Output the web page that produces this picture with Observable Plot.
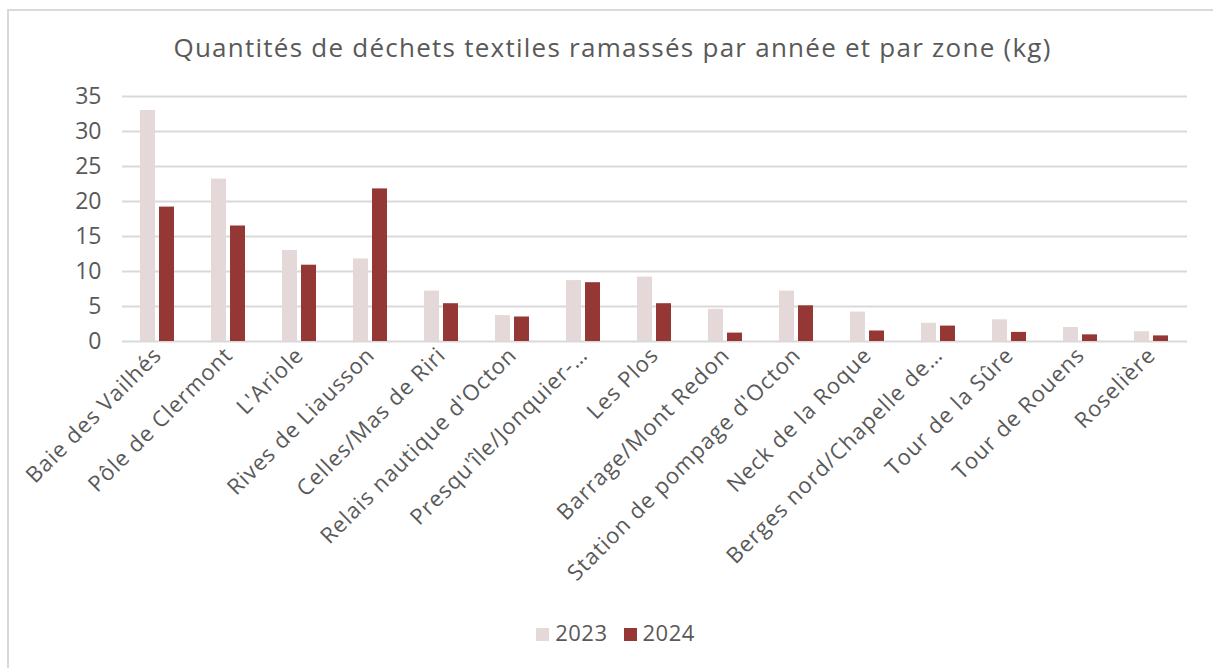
<!DOCTYPE html>
<html><head><meta charset="utf-8">
<script src="https://cdn.jsdelivr.net/npm/d3@7"></script>
<script src="https://cdn.jsdelivr.net/npm/@observablehq/plot@0.6"></script>
<style>
body{margin:0;background:#fff;font-family:"Open Sans",sans-serif;overflow:hidden;}
#frame{position:absolute;left:7px;top:9px;width:1230px;height:690px;border:2px solid #d9d9d9;box-sizing:border-box;}
#title{position:absolute;left:6px;top:29px;width:1213px;text-align:center;font-size:26px;letter-spacing:1.25px;color:#595959;white-space:nowrap;}
#chart{position:absolute;left:0;top:80px;}
#chart g[aria-label="fx-axis tick label"] text{letter-spacing:1px;}
#legend{position:absolute;left:9px;top:617px;width:1213px;text-align:center;font-size:22px;letter-spacing:0.5px;color:#595959;}
#legend span.item{display:inline-block;margin:0 8px;}
#legend span.sw{display:inline-block;width:13px;height:13px;margin-right:6px;vertical-align:0px;}
</style>
</head><body>
<div id="frame"></div>
<div id="title">Quantités de déchets textiles ramassés par année et par zone (kg)</div>
<div id="chart"></div>
<div id="legend"></div>
<script>
const zones = ["Baie des Vailhés","Pôle de Clermont","L'Ariole","Rives de Liausson","Celles/Mas de Riri","Relais nautique d'Octon","Presqu'île/Jonquier-…","Les Plos","Barrage/Mont Redon","Station de pompage d'Octon","Neck de la Roque","Berges nord/Chapelle de…","Tour de la Sûre","Tour de Rouens","Roselière"];
const v2023 = [33.0, 23.2, 13.0, 11.8, 7.2, 3.7, 8.7, 9.2, 4.6, 7.2, 4.2, 2.6, 3.1, 2.0, 1.4];
const v2024 = [19.2, 16.5, 10.9, 21.8, 5.4, 3.5, 8.4, 5.4, 1.2, 5.1, 1.5, 2.2, 1.3, 0.95, 0.8];
const years = ["2023","2024"];
const colors = ["#e4d9d8","#953735"];
const yTicks = [0,5,10,15,20,25,30,35];

const data = zones.flatMap((z,i) => [
  {zone:z, year:"2023", value:v2023[i]},
  {zone:z, year:"2024", value:v2024[i]}
]);

const chart = Plot.plot({
  width:1213, height:540,
  marginLeft:121, marginRight:25, marginTop:16, marginBottom:279,
  style:{fontFamily:"Open Sans, sans-serif", color:"#595959", background:"transparent"},
  fx:{domain:zones, padding:0, label:null},
  x:{domain:years, paddingInner:0.2, paddingOuter:0.8775, axis:null},
  y:{domain:[0,35], label:null},
  color:{domain:years, range:colors},
  marks:[
    Plot.gridY(yTicks, {stroke:"#d9d9d9", strokeOpacity:1, strokeWidth:2}),
    Plot.barY(data, {fx:"zone", x:"year", y:"value", fill:"year"}),
    Plot.axisY(yTicks, {tickSize:0, tickPadding:21, fontSize:23, label:null}),
    Plot.axisFx({anchor:"bottom", tickRotate:-45, tickSize:0, tickPadding:10, fontSize:22, label:null})
  ]
});
document.getElementById("chart").appendChild(chart);

const leg = document.getElementById("legend");
years.forEach((y,i) => {
  const it = document.createElement("span"); it.className = "item";
  const sw = document.createElement("span"); sw.className = "sw"; sw.style.background = colors[i];
  it.appendChild(sw); it.appendChild(document.createTextNode(y));
  leg.appendChild(it);
});
</script>
</body></html>
